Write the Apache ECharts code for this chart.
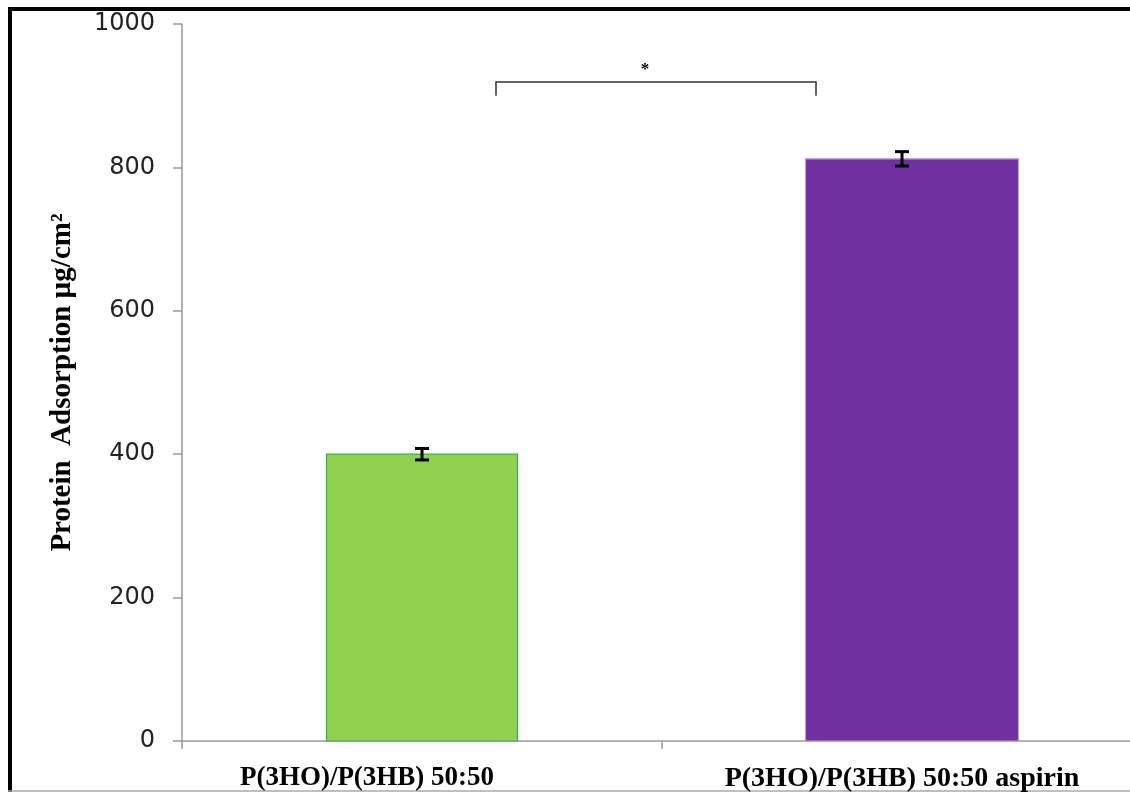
<!DOCTYPE html>
<html>
<head>
<meta charset="utf-8">
<script src="https://cdn.jsdelivr.net/npm/echarts@6/dist/echarts.min.js"></script>
<style>
  html, body { margin: 0; padding: 0; background: #fff; }
  #chart { width: 1130px; height: 792px; }
</style>
</head>
<body>
<div id="chart"></div>
<script>
// Protein adsorption on P(3HO)/P(3HB) 50:50 films, with and without aspirin
const categories = ['P(3HO)/P(3HB) 50:50', 'P(3HO)/P(3HB) 50:50 aspirin'];
const means = [400, 812];
const errors = [8, 10];
const yTicks = [0, 200, 400, 600, 800, 1000];
const significance = '*';

// per-bar appearance
const barFill = ['#92d050', '#7030a0'];
const barEdge = ['#2fb14a', '#b79fd3'];
const barWidthPx = [191, 213];
const barShiftPx = [0, 10];

const chart = echarts.init(document.getElementById('chart'));

const barData = means.map((v, i) => [i, v]);
const errData = means.map((v, i) => [i, v - errors[i], v + errors[i]]);

chart.setOption({
  animation: false,
  grid: { left: 182, top: 24, width: 960, height: 717, containLabel: false, outerBoundsMode: 'none' },
  xAxis: {
    type: 'category',
    data: categories,
    axisLine: { lineStyle: { color: '#9a9a9a', width: 1.5 } },
    axisTick: { show: true, length: 8, alignWithLabel: false, lineStyle: { color: '#9a9a9a', width: 1.5 } },
    axisLabel: {
      interval: 0,
      margin: 24,
      formatter: (v, i) => i === 0 ? '{a|' + v + '}' : '{b|' + v + '}',
      rich: {
        a: { color: '#000', fontFamily: 'Liberation Serif', fontWeight: 'bold', fontSize: 27, padding: [0, 110, 0, 0] },
        b: { color: '#000', fontFamily: 'Liberation Serif', fontWeight: 'bold', fontSize: 28 }
      }
    },
    splitLine: { show: false }
  },
  yAxis: {
    type: 'value',
    min: 0, max: 1000, interval: 200,
    name: 'Protein  Adsorption µg/cm²',
    nameLocation: 'middle',
    nameGap: 105,
    nameTextStyle: { color: '#000', fontFamily: 'Liberation Serif', fontWeight: 'bold', fontSize: 29 },
    axisLine: { show: true, lineStyle: { color: '#9a9a9a', width: 1.5 } },
    axisTick: { show: true, length: 9, lineStyle: { color: '#9a9a9a', width: 1.5 } },
    axisLabel: {
      color: '#222', fontFamily: 'DejaVu Sans', fontSize: 24, margin: 27,
      formatter: v => yTicks.includes(v) ? String(v) : ''
    },
    splitLine: { show: false }
  },
  series: [
    {
      type: 'custom',
      data: barData,
      renderItem: (params, api) => {
        const i = api.value(0);
        const top = api.coord([i, api.value(1)]);
        const base = api.coord([i, 0]);
        const w = barWidthPx[i];
        return {
          type: 'rect',
          shape: { x: top[0] - w / 2 + barShiftPx[i], y: top[1], width: w, height: base[1] - top[1] },
          style: { fill: barFill[i], stroke: barEdge[i], lineWidth: 1.2 }
        };
      },
      z: 2
    },
    {
      type: 'custom',
      data: errData,
      renderItem: (params, api) => {
        const i = api.value(0);
        const lo = api.coord([i, api.value(1)]);
        const hi = api.coord([i, api.value(2)]);
        const x = lo[0];
        const cap = 7;
        const st = { stroke: '#000', lineWidth: 3 };
        return {
          type: 'group',
          children: [
            { type: 'line', shape: { x1: x, y1: lo[1], x2: x, y2: hi[1] }, style: st },
            { type: 'line', shape: { x1: x - cap, y1: lo[1], x2: x + cap, y2: lo[1] }, style: st },
            { type: 'line', shape: { x1: x - cap, y1: hi[1], x2: x + cap, y2: hi[1] }, style: st }
          ]
        };
      },
      z: 3
    }
  ]
});

// significance bracket between the two groups, plus the outer frame
const c0 = chart.convertToPixel({ xAxisIndex: 0, yAxisIndex: 0 }, [0, 919]);
const c1 = chart.convertToPixel({ xAxisIndex: 0, yAxisIndex: 0 }, [1, 900]);
const bx1 = c0[0] + 74, bx2 = c1[0] - 86;
const by = c0[1], bEnd = c1[1];
chart.setOption({
  graphic: [
    {
      type: 'polyline',
      shape: { points: [[bx1, bEnd], [bx1, by], [bx2, by], [bx2, bEnd]] },
      style: { stroke: '#333', lineWidth: 1.5, fill: null }
    },
    {
      type: 'text',
      x: (bx1 + bx2) / 2 - 11, y: by - 12,
      style: { text: significance, fill: '#000', font: 'bold 17px Liberation Serif', textAlign: 'center', textVerticalAlign: 'middle' }
    },
    { type: 'line', shape: { x1: 10, y1: 7, x2: 10, y2: 792 }, style: { stroke: '#000', lineWidth: 4 } },
    { type: 'line', shape: { x1: 8, y1: 9, x2: 1130, y2: 9 }, style: { stroke: '#000', lineWidth: 4 } },
    { type: 'line', shape: { x1: 8, y1: 791, x2: 1130, y2: 791 }, style: { stroke: '#aaa', lineWidth: 1.5 } }
  ]
});
</script>
</body>
</html>
